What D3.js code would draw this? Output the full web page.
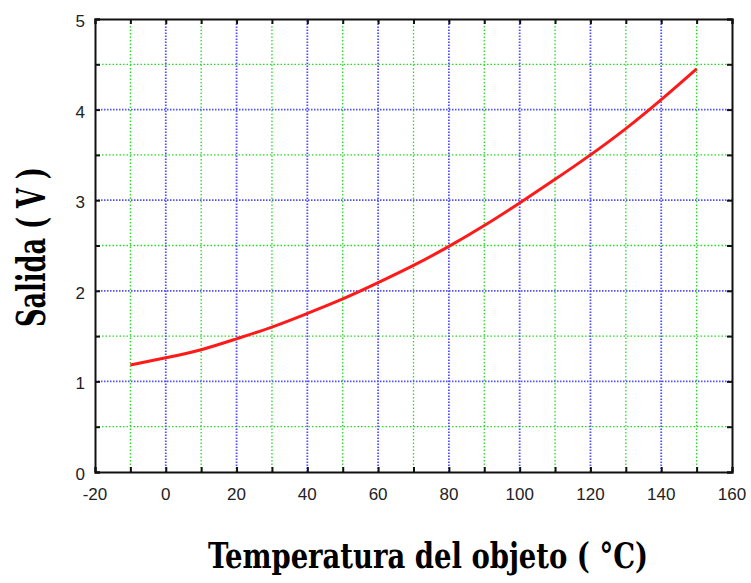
<!DOCTYPE html>
<html>
<head>
<meta charset="utf-8">
<script src="https://cdn.jsdelivr.net/npm/d3@7"></script>
<style>
  body { margin: 0; background: #fff; }
  svg { display: block; }
</style>
</head>
<body>
<div id="chart"></div>
<script>
// temperature (°C) vs output (V)
var temps = [-10, 0, 10, 20, 30, 40, 50, 60, 70, 80, 90, 100, 110, 120, 130, 140, 150];
var volts = [1.18, 1.26, 1.35, 1.47, 1.60, 1.75, 1.91, 2.09, 2.28, 2.49, 2.72, 2.97, 3.23, 3.50, 3.79, 4.11, 4.45];
var xMajor = [-20, 0, 20, 40, 60, 80, 100, 120, 140, 160];
var xMinor = [-10, 10, 30, 50, 70, 90, 110, 130, 150];
var yMajor = [0, 1, 2, 3, 4, 5];
var yMinor = [0.5, 1.5, 2.5, 3.5, 4.5];

var width = 751, height = 583;
var margin = { top: 19, right: 19, bottom: 111, left: 95 };

var svg = d3.select("#chart").append("svg")
    .attr("width", width)
    .attr("height", height);

var x = d3.scaleLinear().domain([-20, 160]).range([margin.left, width - margin.right]);
var y = d3.scaleLinear().domain([0, 5]).range([height - margin.bottom, margin.top]);

var grid = svg.append("g");

// minor grid (green)
grid.selectAll(".vmin").data(xMinor).enter().append("line")
    .attr("x1", d => x(d)).attr("x2", d => x(d))
    .attr("y1", y(0)).attr("y2", y(5))
    .attr("stroke", "#22dd22").attr("stroke-width", 1.3)
    .attr("stroke-dasharray", "1.5,2");
grid.selectAll(".hmin").data(yMinor).enter().append("line")
    .attr("x1", x(-20)).attr("x2", x(160))
    .attr("y1", d => y(d)).attr("y2", d => y(d))
    .attr("stroke", "#22dd22").attr("stroke-width", 1.3)
    .attr("stroke-dasharray", "1.5,2");

// major grid (blue)
grid.selectAll(".vmaj").data(xMajor.slice(1, -1)).enter().append("line")
    .attr("x1", d => x(d)).attr("x2", d => x(d))
    .attr("y1", y(0)).attr("y2", y(5))
    .attr("stroke", "#5050ff").attr("stroke-width", 1.8)
    .attr("stroke-dasharray", "1.5,1.5");
grid.selectAll(".hmaj").data(yMajor.slice(1, -1)).enter().append("line")
    .attr("x1", x(-20)).attr("x2", x(160))
    .attr("y1", d => y(d)).attr("y2", d => y(d))
    .attr("stroke", "#5050ff").attr("stroke-width", 1.8)
    .attr("stroke-dasharray", "1.5,1.5");

// curve
var line = d3.line()
    .x((d, i) => x(temps[i]))
    .y(d => y(d))
    .curve(d3.curveNatural);

svg.append("path")
    .datum(volts)
    .attr("d", line)
    .attr("fill", "none")
    .attr("stroke", "#ff1a1a")
    .attr("stroke-width", 3);

// axes with inner ticks on all four sides
var allX = xMajor.concat(xMinor);
var allY = yMajor.concat(yMinor);

svg.append("g")
    .attr("transform", "translate(0," + y(0) + ")")
    .call(d3.axisTop(x).tickValues(allX).tickSize(5).tickFormat(""));
svg.append("g")
    .attr("transform", "translate(0," + y(5) + ")")
    .call(d3.axisBottom(x).tickValues(allX).tickSize(5).tickFormat(""));
svg.append("g")
    .attr("transform", "translate(" + x(-20) + ",0)")
    .call(d3.axisRight(y).tickValues(allY).tickSize(5).tickFormat(""));
svg.append("g")
    .attr("transform", "translate(" + x(160) + ",0)")
    .call(d3.axisLeft(y).tickValues(allY).tickSize(5).tickFormat(""));

svg.selectAll(".domain, .tick line")
    .attr("stroke", "#111")
    .attr("stroke-width", 2);

// tick labels
svg.append("g").selectAll("text").data(xMajor).enter().append("text")
    .attr("x", d => x(d))
    .attr("y", y(0) + 28)
    .attr("text-anchor", "middle")
    .style("font-family", "Liberation Sans, Arial, sans-serif")
    .style("font-size", "17px")
    .attr("fill", "#222")
    .text(d => d);

svg.append("g").selectAll("text").data(yMajor).enter().append("text")
    .attr("x", x(-20) - 10)
    .attr("y", d => y(d) + 8)
    .attr("text-anchor", "end")
    .style("font-family", "Liberation Sans, Arial, sans-serif")
    .style("font-size", "17px")
    .attr("fill", "#222")
    .text(d => d);

// axis titles
svg.append("text")
    .attr("x", 428)
    .attr("y", 568)
    .attr("text-anchor", "middle")
    .attr("textLength", 440)
    .attr("lengthAdjust", "spacingAndGlyphs")
    .style("font-family", "DejaVu Serif Condensed, DejaVu Serif, serif")
    .style("font-weight", "bold")
    .style("font-size", "36px")
    .text("Temperatura del objeto ( °C)");

svg.append("text")
    .attr("transform", "translate(45,247) rotate(-90)")
    .attr("text-anchor", "middle")
    .attr("textLength", 160)
    .attr("lengthAdjust", "spacingAndGlyphs")
    .style("font-family", "DejaVu Serif Condensed, DejaVu Serif, serif")
    .style("font-weight", "bold")
    .style("font-size", "40px")
    .text("Salida ( V )");
</script>
</body>
</html>
